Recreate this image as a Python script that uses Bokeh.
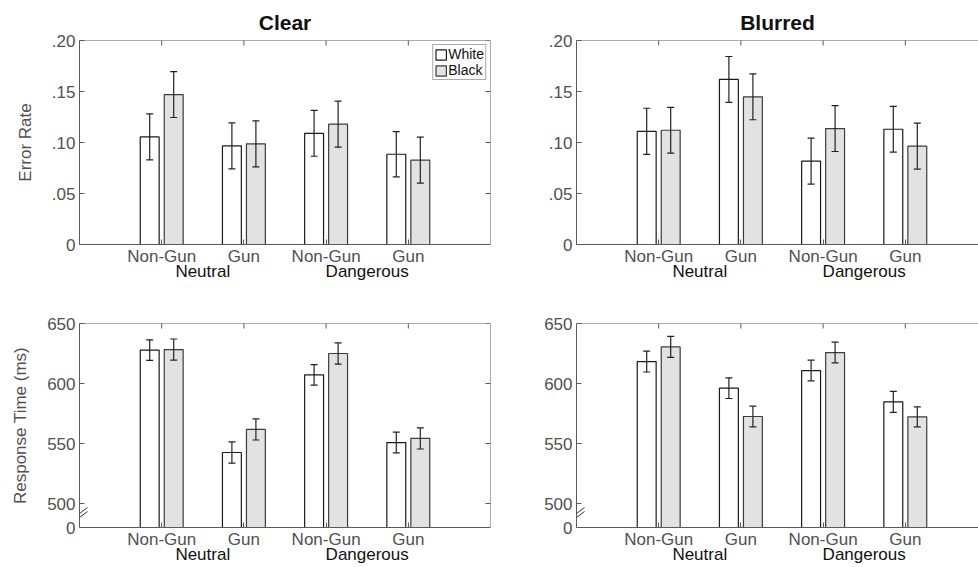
import math
from bokeh.plotting import figure
from bokeh.models import (Range1d, FixedTicker, LinearAxis, Whisker, TeeHead,
                          ColumnDataSource, Legend, LegendItem, Arrow, Span)
from bokeh.layouts import column, row
from bokeh.embed import file_html
from bokeh.resources import INLINE

# ---------------- data ----------------
conditions = ["Non-Gun", "Gun", "Non-Gun", "Gun"]
groups = ["Neutral", "Dangerous"]
group_pos = [1.5, 3.5]
races = ["White", "Black"]
panel_titles = ["Clear", "Blurred"]

er_ticks = [0, 0.05, 0.10, 0.15, 0.20]
er_tick_labels = ["0", ".05", ".10", ".15", ".20"]
rt_ticks = [480, 500, 550, 600, 650]
rt_tick_labels = ["0", "500", "550", "600", "650"]

# Error rate, Clear
er_clear_white = [0.1055, 0.0967, 0.1090, 0.0885]
er_clear_white_se = [0.0225, 0.0225, 0.0225, 0.0222]
er_clear_black = [0.1470, 0.0987, 0.1180, 0.0827]
er_clear_black_se = [0.0225, 0.0225, 0.0225, 0.0226]
# Error rate, Blurred
er_blur_white = [0.1110, 0.1618, 0.0817, 0.1130]
er_blur_white_se = [0.0226, 0.0225, 0.0225, 0.0224]
er_blur_black = [0.1120, 0.1448, 0.1137, 0.0964]
er_blur_black_se = [0.0225, 0.0225, 0.0225, 0.0225]
# Response time, Clear
rt_clear_white = [627.8, 542.5, 607.2, 550.8]
rt_clear_white_se = [8.6, 8.9, 8.6, 8.6]
rt_clear_black = [628.3, 561.7, 625.0, 554.2]
rt_clear_black_se = [8.8, 8.8, 8.9, 8.8]
# Response time, Blurred
rt_blur_white = [618.3, 596.1, 610.8, 584.7]
rt_blur_white_se = [8.7, 8.6, 8.6, 8.7]
rt_blur_black = [630.5, 572.5, 625.8, 572.2]
rt_blur_black_se = [8.7, 8.6, 8.6, 8.4]

# ---------------- style ----------------
FONT = "Liberation Sans"
AX = "#5a5a5a"
TXT = "#505050"
BAR_W = 0.23
DODGE = 0.146
PX_PER_UNIT = 82.2


def make_panel(width, height, mb, xmax, yr, ticks, tick_labels, ylabel,
               white, white_se, black, black_se, title=None, left=True,
               legend=False, axis_break=False):
    p = figure(width=width, height=height, output_backend="svg", toolbar_location=None,
               x_range=Range1d(0, xmax), y_range=Range1d(*yr),
               min_border_left=mb[0], min_border_right=mb[1],
               min_border_top=mb[2], min_border_bottom=mb[3])
    p.xgrid.visible = False
    p.ygrid.visible = False
    p.outline_line_color = None
    p.background_fill_color = "white"
    p.border_fill_color = "white"

    xs = [i + 1 for i in range(len(conditions))]
    base = yr[0]

    src_w = ColumnDataSource(dict(x=[x - DODGE for x in xs], top=white,
                                  lower=[v - s for v, s in zip(white, white_se)],
                                  upper=[v + s for v, s in zip(white, white_se)]))
    src_b = ColumnDataSource(dict(x=[x + DODGE for x in xs], top=black,
                                  lower=[v - s for v, s in zip(black, black_se)],
                                  upper=[v + s for v, s in zip(black, black_se)]))
    rw = p.vbar(x="x", top="top", bottom=base, width=BAR_W, source=src_w,
                fill_color="white", line_color="#1a1a1a", line_width=1.2)
    rb = p.vbar(x="x", top="top", bottom=base, width=BAR_W, source=src_b,
                fill_color="#e2e2e2", line_color="#3c3c3c", line_width=1.2)
    for src in (src_w, src_b):
        p.add_layout(Whisker(source=src, base="x", lower="lower", upper="upper",
                             dimension="height", line_color="#222222", line_width=1.2,
                             level="overlay",
                             upper_head=TeeHead(size=7, line_color="#222222", line_width=1.2),
                             lower_head=TeeHead(size=7, line_color="#222222", line_width=1.2)))

    # bottom x axis
    xa = p.xaxis[0]
    xa.ticker = FixedTicker(ticks=xs)
    xa.major_label_overrides = {x: c for x, c in zip(xs, conditions)}
    # y axis
    ya = p.yaxis[0]
    ya.ticker = FixedTicker(ticks=ticks)
    ya.major_label_overrides = {t: l for t, l in zip(ticks, tick_labels)}
    if ylabel:
        ya.axis_label = ylabel
    # group axis (second row of category labels)
    ga = LinearAxis(ticker=FixedTicker(ticks=group_pos),
                    major_label_overrides={g: t for g, t in zip(group_pos, groups)},
                    axis_line_color=None, major_tick_line_color=None,
                    minor_tick_line_color=None, major_tick_in=0, major_tick_out=0,
                    major_label_standoff=-7, major_label_text_color="#111111",
                    major_label_text_font=FONT, major_label_text_font_size="17px")
    p.add_layout(ga, "below")

    for a in (xa, ya):
        a.major_tick_in = 5
        a.major_tick_out = 0
        a.minor_tick_line_color = None
        a.axis_line_color = AX
        a.major_tick_line_color = AX
        a.major_label_text_color = TXT
        a.major_label_text_font = FONT
        a.major_label_text_font_size = "17px"
        a.axis_label_text_font = FONT
        a.axis_label_text_font_size = "17px"
        a.axis_label_text_font_style = "normal"
        a.axis_label_text_color = TXT
    xa.major_label_standoff = 2
    ya.major_label_standoff = 4
    ya.axis_label_standoff = 14

    # mirrored box: top line + inward ticks (clipped half of dash markers)
    p.add_layout(Span(location=yr[1], dimension="width", line_color=AX, line_width=1))
    p.scatter(x=xs, y=[yr[1]] * len(xs), marker="dash", size=10, angle=math.pi / 2,
              line_color=AX, line_width=1)
    if left:
        p.add_layout(Span(location=xmax, dimension="height", line_color=AX, line_width=1))
        p.scatter(x=[xmax] * len(ticks), y=ticks, marker="dash", size=10,
                  line_color=AX, line_width=1)

    if title:
        p.title.text = title
        p.title.align = "center"
        p.title.text_font = FONT
        p.title.text_font_size = "21px"
        p.title.text_font_style = "bold"
        p.title.text_color = "#111111"
        p.title.standoff = 14

    if legend:
        lg = Legend(items=[LegendItem(label=races[0], renderers=[rw]),
                           LegendItem(label=races[1], renderers=[rb])],
                    location="top_right", margin=4, padding=1, spacing=0,
                    label_standoff=1, glyph_width=13, glyph_height=13,
                    label_height=14, label_text_font=FONT, label_text_font_size="14px",
                    label_text_color="#111111", border_line_color="#555555",
                    border_line_width=1, background_fill_alpha=1)
        p.add_layout(lg)

    if axis_break:
        ypx = (yr[1] - yr[0]) / 204.0
        for dy in (0, 4):
            p.add_layout(Arrow(end=None, x_start=-8 / PX_PER_UNIT, x_end=8 / PX_PER_UNIT,
                               y_start=base + (4 + dy) * ypx, y_end=base + (16 + dy) * ypx,
                               line_color="#333333", line_width=1))
    return p


LEFT_MB = (79, 1, 40, 46)
RIGHT_MB = (85, 0, 40, 46)
LEFT_MB2 = (79, 1, 33, 40)
RIGHT_MB2 = (85, 0, 33, 40)

p1 = make_panel(491, 290, LEFT_MB, 5, (0, 0.2), er_ticks, er_tick_labels, "Error Rate",
                er_clear_white, er_clear_white_se, er_clear_black, er_clear_black_se,
                title=panel_titles[0], left=True, legend=True)
p2 = make_panel(487, 290, RIGHT_MB, 402 / PX_PER_UNIT, (0, 0.2), er_ticks, er_tick_labels, None,
                er_blur_white, er_blur_white_se, er_blur_black, er_blur_black_se,
                title=panel_titles[1], left=False)
p3 = make_panel(491, 277, LEFT_MB2, 5, (480, 650), rt_ticks, rt_tick_labels, "Response Time (ms)",
                rt_clear_white, rt_clear_white_se, rt_clear_black, rt_clear_black_se,
                left=True, axis_break=True)
p4 = make_panel(487, 277, RIGHT_MB2, 402 / PX_PER_UNIT, (480, 650), rt_ticks, rt_tick_labels, None,
                rt_blur_white, rt_blur_white_se, rt_blur_black, rt_blur_black_se,
                left=False, axis_break=True)

layout = column(row(p1, p2), row(p3, p4))
open("out.html", "w").write(file_html(layout, INLINE))
